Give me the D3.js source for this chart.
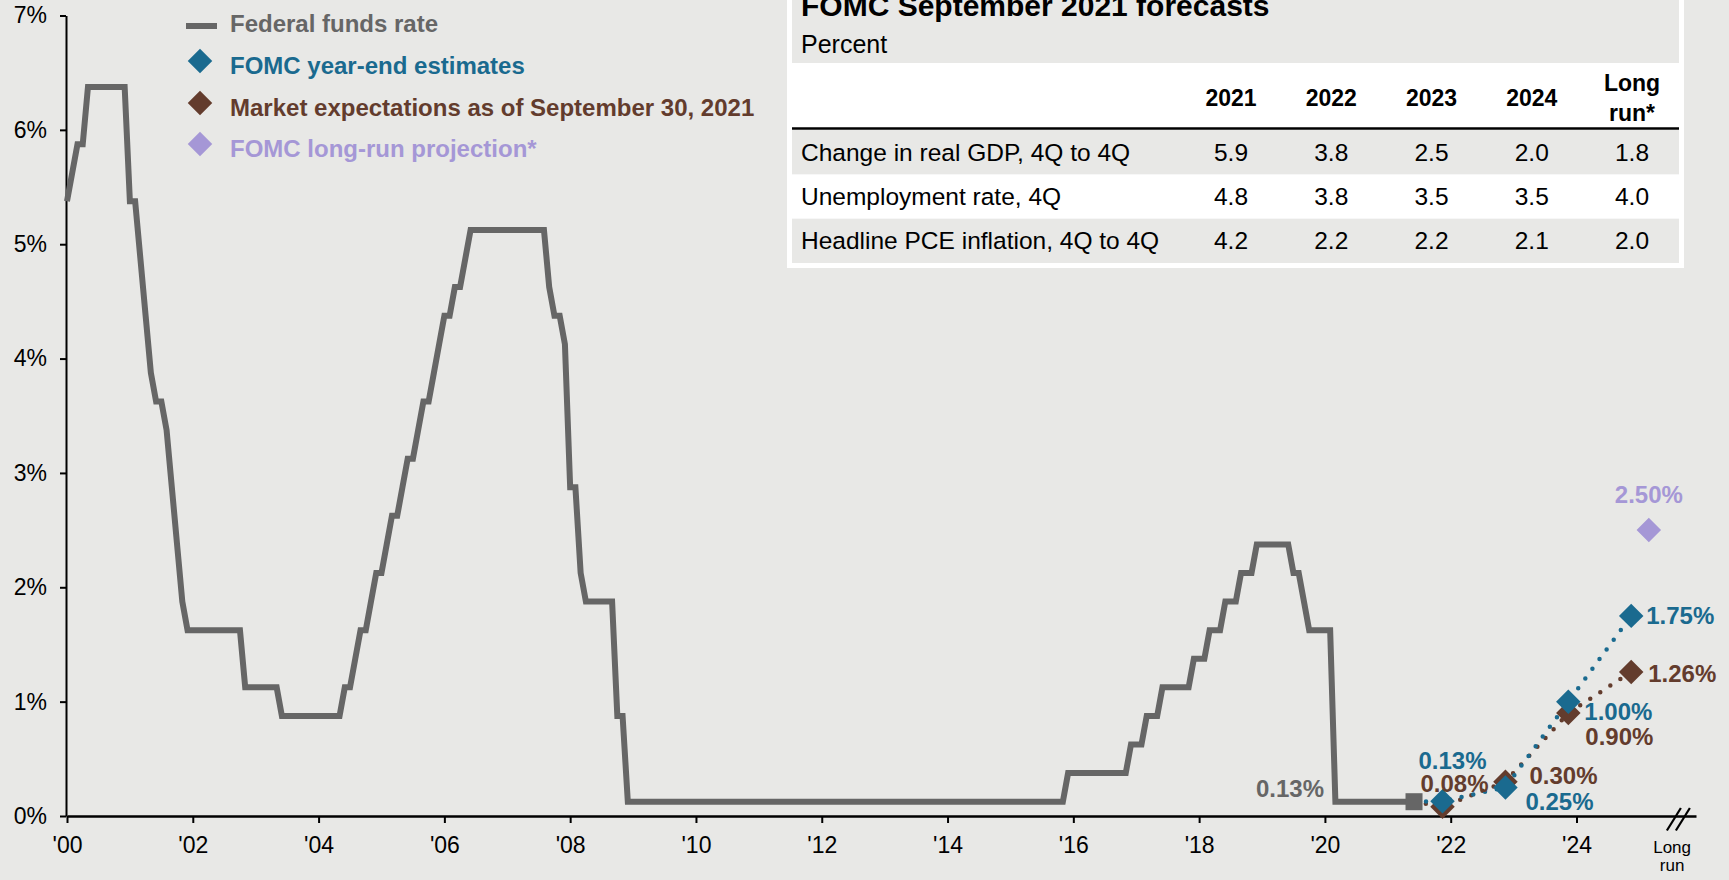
<!DOCTYPE html>
<html><head><meta charset="utf-8">
<script src="https://cdn.jsdelivr.net/npm/d3@7"></script>
<style>
html,body{margin:0;padding:0;background:#e8e8e6;}
svg{display:block;}
text{font-family:"Liberation Sans",Arial,Helvetica,sans-serif;}
</style>
</head><body>
<svg id="chart" width="1729" height="880"></svg>
<script>
// ---------------- DATA ----------------
const fedStartYear = 2000;
// Federal funds rate as plotted (monthly, Jan 2000 – Jun 2021), percent
const fedFundsMonthly = [
  5.375,5.625,5.875,5.875,6.375,6.375,6.375,6.375,6.375,6.375,6.375,6.375, // 2000
  5.375,5.375,4.875,4.375,3.875,3.625,3.625,3.375,2.875,2.375,1.875,1.625, // 2001
  1.625,1.625,1.625,1.625,1.625,1.625,1.625,1.625,1.625,1.625,1.125,1.125, // 2002
  1.125,1.125,1.125,1.125,1.125,0.875,0.875,0.875,0.875,0.875,0.875,0.875, // 2003
  0.875,0.875,0.875,0.875,0.875,1.125,1.125,1.375,1.625,1.625,1.875,2.125, // 2004
  2.125,2.375,2.625,2.625,2.875,3.125,3.125,3.375,3.625,3.625,3.875,4.125, // 2005
  4.375,4.375,4.625,4.625,4.875,5.125,5.125,5.125,5.125,5.125,5.125,5.125, // 2006
  5.125,5.125,5.125,5.125,5.125,5.125,5.125,5.125,4.625,4.375,4.375,4.125, // 2007
  2.875,2.875,2.125,1.875,1.875,1.875,1.875,1.875,1.875,0.875,0.875,0.125, // 2008
  0.125,0.125,0.125,0.125,0.125,0.125,0.125,0.125,0.125,0.125,0.125,0.125, // 2009
  0.125,0.125,0.125,0.125,0.125,0.125,0.125,0.125,0.125,0.125,0.125,0.125, // 2010
  0.125,0.125,0.125,0.125,0.125,0.125,0.125,0.125,0.125,0.125,0.125,0.125, // 2011
  0.125,0.125,0.125,0.125,0.125,0.125,0.125,0.125,0.125,0.125,0.125,0.125, // 2012
  0.125,0.125,0.125,0.125,0.125,0.125,0.125,0.125,0.125,0.125,0.125,0.125, // 2013
  0.125,0.125,0.125,0.125,0.125,0.125,0.125,0.125,0.125,0.125,0.125,0.125, // 2014
  0.125,0.125,0.125,0.125,0.125,0.125,0.125,0.125,0.125,0.125,0.125,0.375, // 2015
  0.375,0.375,0.375,0.375,0.375,0.375,0.375,0.375,0.375,0.375,0.375,0.625, // 2016
  0.625,0.625,0.875,0.875,0.875,1.125,1.125,1.125,1.125,1.125,1.125,1.375, // 2017
  1.375,1.375,1.625,1.625,1.625,1.875,1.875,1.875,2.125,2.125,2.125,2.375, // 2018
  2.375,2.375,2.375,2.375,2.375,2.375,2.125,2.125,1.875,1.625,1.625,1.625, // 2019
  1.625,1.625,0.125,0.125,0.125,0.125,0.125,0.125,0.125,0.125,0.125,0.125, // 2020
  0.125,0.125,0.125,0.125,0.125,0.125                                      // 2021
];
const fedLastLabel = "0.13%";

const fomcYears = [2021, 2022, 2023, 2024];
const fomcEstimates = [0.13, 0.25, 1.00, 1.75];
const marketExpectations = [0.08, 0.30, 0.90, 1.26];
const longRunProjection = 2.50;

const xTickYears = [2000,2002,2004,2006,2008,2010,2012,2014,2016,2018,2020,2022,2024];
const xTickLabels = ["'00","'02","'04","'06","'08","'10","'12","'14","'16","'18","'20","'22","'24"];
const longRunLabel = ["Long", "run"];
const yTicks = [0,1,2,3,4,5,6,7];

const legendLabels = ["Federal funds rate","FOMC year-end estimates","Market expectations as of September 30, 2021","FOMC long-run projection*"];

const tableTitle = "FOMC September 2021 forecasts";
const tableSubtitle = "Percent";
const tableCols = ["2021","2022","2023","2024","Long run*"];
const tableRowLabels = ["Change in real GDP, 4Q to 4Q","Unemployment rate, 4Q","Headline PCE inflation, 4Q to 4Q"];
const tableValues = [
  [5.9, 3.8, 2.5, 2.0, 1.8],
  [4.8, 3.8, 3.5, 3.5, 4.0],
  [4.2, 2.2, 2.2, 2.1, 2.0]
];

// ---------------- STYLE / LAYOUT ----------------
const BG = "#e8e8e6";
const C_FED = "#666666";
const C_BLUE = "#1a6a8f";
const C_BROWN = "#633c2d";
const C_PURPLE = "#a597d6";
const FONT = '"Liberation Sans",Arial,Helvetica,sans-serif';

const svg = d3.select("#chart");
svg.append("rect").attr("width",1729).attr("height",880).attr("fill",BG);

const x = d3.scaleLinear().domain([2000, 2025.9]).range([67, 1696]);
const y = d3.scaleLinear().domain([0, 7]).range([816, 15.5]);
const yearEndOffset = 0.87;   // year-end marker placement within a year
const longRunPos = 2025.15;
const longRunLabelPos = 2025.52;
const breakPos = 2025.62;

// ---------------- AXES ----------------
const yAxis = d3.axisLeft(y).tickValues(yTicks).tickSize(6).tickSizeOuter(0).tickPadding(13)
  .tickFormat(d => d + "%");
const gy = svg.append("g").attr("transform","translate(66,0)").call(yAxis);
gy.select(".domain").attr("stroke","#000").attr("stroke-width",2);
gy.selectAll(".tick line").attr("stroke","#000").attr("stroke-width",2);
gy.selectAll(".tick text").attr("font-family",FONT).attr("font-size",23).attr("fill","#000");

const xAxis = d3.axisBottom(x).tickValues(xTickYears).tickSize(7).tickSizeOuter(0).tickPadding(14)
  .tickFormat((d,i) => xTickLabels[i]);
const gx = svg.append("g").attr("transform","translate(0,816)").call(xAxis);
gx.select(".domain").attr("stroke","#000").attr("stroke-width",2.5);
gx.selectAll(".tick line").attr("stroke","#000").attr("stroke-width",2);
gx.selectAll(".tick text").attr("font-family",FONT).attr("font-size",23).attr("fill","#000");

// long-run axis label
const lr = svg.append("text").attr("x", x(longRunLabelPos)).attr("text-anchor","middle")
  .attr("font-size",17).attr("fill","#000");
lr.selectAll("tspan").data(longRunLabel).join("tspan")
  .attr("x", x(longRunLabelPos)).attr("y",(d,i)=> i===0 ? 853 : 871).text(d=>d);

// axis break marks
const bx = x(breakPos);
[-4.5, 4.5].forEach(off => {
  svg.append("line").attr("x1", bx+off-7).attr("y1",830.5).attr("x2", bx+off+7).attr("y2",808)
    .attr("stroke","#000").attr("stroke-width",2.2);
});

// ---------------- FED FUNDS LINE ----------------
const fedPoints = fedFundsMonthly.map((v,i) => [fedStartYear + i/12, v]);
const line = d3.line().x(d => x(d[0])).y(d => y(d[1]));
svg.append("path").datum(fedPoints).attr("d", line)
  .attr("fill","none").attr("stroke",C_FED).attr("stroke-width",6).attr("stroke-linejoin","miter");

const last = fedPoints[fedPoints.length-1];

// dotted projection lines
const mktPts = [last].concat(fomcYears.map((yr,i)=>[yr+yearEndOffset, marketExpectations[i]]));
const estPts = [last].concat(fomcYears.map((yr,i)=>[yr+yearEndOffset, fomcEstimates[i]]));
svg.append("path").datum(mktPts).attr("d", line).attr("fill","none").attr("stroke",C_BROWN)
  .attr("stroke-width",4.5).attr("stroke-linecap","round").attr("stroke-dasharray","0 12");
svg.append("path").datum(estPts).attr("d", line).attr("fill","none").attr("stroke",C_BLUE)
  .attr("stroke-width",4.5).attr("stroke-linecap","round").attr("stroke-dasharray","0 12");

// square end marker
svg.append("rect").attr("x", x(last[0])-8.5).attr("y", y(last[1])-8.5)
  .attr("width",17).attr("height",17).attr("fill",C_FED);

svg.append("text").attr("x", x(last[0])-90).attr("y", y(last[1])-5)
  .attr("text-anchor","end").attr("font-size",24).attr("font-weight","bold").attr("fill",C_FED)
  .text(fedLastLabel);

// diamonds
const diamond = d3.symbol().type(d3.symbolSquare).size(300);
function drawDiamonds(vals, color) {
  svg.append("g").selectAll("path").data(vals).join("path")
    .attr("d", diamond)
    .attr("transform",(d,i)=>`translate(${x(fomcYears[i]+yearEndOffset)},${y(d)}) rotate(45)`)
    .attr("fill", color);
}
drawDiamonds(marketExpectations, C_BROWN);
drawDiamonds(fomcEstimates, C_BLUE);
svg.append("path").attr("d", diamond)
  .attr("transform",`translate(${x(longRunPos)},${y(longRunProjection)}) rotate(45)`)
  .attr("fill", C_PURPLE);

// value labels (offsets = placement only)
const estLabelOffsets = [[10,-32,"middle"],[20,23,"start"],[16,18,"start"],[15,8.5,"start"]];
const mktLabelOffsets = [[12,-15,"middle"],[24,2.5,"start"],[17,32,"start"],[17,10.5,"start"]];
function drawLabels(vals, offs, color) {
  svg.append("g").selectAll("text").data(vals).join("text")
    .attr("x",(d,i)=> x(fomcYears[i]+yearEndOffset) + offs[i][0])
    .attr("y",(d,i)=> y(d) + offs[i][1])
    .attr("text-anchor",(d,i)=> offs[i][2])
    .attr("font-size",24).attr("font-weight","bold").attr("fill",color)
    .text(d => d.toFixed(2) + "%");
}
drawLabels(marketExpectations, mktLabelOffsets, C_BROWN);
drawLabels(fomcEstimates, estLabelOffsets, C_BLUE);
svg.append("text").attr("x", x(longRunPos)).attr("y", y(longRunProjection)-27)
  .attr("text-anchor","middle").attr("font-size",24).attr("font-weight","bold").attr("fill",C_PURPLE)
  .text(longRunProjection.toFixed(2) + "%");

// ---------------- LEGEND ----------------
const legendColors = [C_FED, C_BLUE, C_BROWN, C_PURPLE];
const legendBaselines = [32, 74, 116, 157];
const lg = svg.append("g");
legendLabels.forEach((lab,i) => {
  if (i === 0) {
    lg.append("line").attr("x1",186).attr("x2",217).attr("y1",26).attr("y2",26)
      .attr("stroke",C_FED).attr("stroke-width",6);
  } else {
    lg.append("path").attr("d", d3.symbol().type(d3.symbolSquare).size(300))
      .attr("transform",`translate(200,${legendBaselines[i]-13}) rotate(45)`)
      .attr("fill", legendColors[i]);
  }
  lg.append("text").attr("x",230).attr("y",legendBaselines[i])
    .attr("font-size",24).attr("font-weight","bold").attr("fill",legendColors[i]).text(lab);
});

// ---------------- TABLE ----------------
const tb = svg.append("g");
tb.append("rect").attr("x",787).attr("y",0).attr("width",897).attr("height",268).attr("fill","#fff");
tb.append("rect").attr("x",792).attr("y",0).attr("width",887).attr("height",63).attr("fill",BG);
tb.append("text").attr("x",801).attr("y",16).attr("font-size",30).attr("font-weight","bold").attr("fill","#000").text(tableTitle);
tb.append("text").attr("x",801).attr("y",53).attr("font-size",25).attr("fill","#000").text(tableSubtitle);

const colX = d3.scalePoint().domain(tableCols).range([1231, 1632]);
tableCols.forEach(c => {
  const parts = c.split(" ");
  if (parts.length === 1) {
    tb.append("text").attr("x",colX(c)).attr("y",106).attr("text-anchor","middle")
      .attr("font-size",23).attr("font-weight","bold").text(c);
  } else {
    tb.append("text").attr("x",colX(c)).attr("y",91).attr("text-anchor","middle")
      .attr("font-size",23).attr("font-weight","bold").text(parts[0]);
    tb.append("text").attr("x",colX(c)).attr("y",121).attr("text-anchor","middle")
      .attr("font-size",23).attr("font-weight","bold").text(parts[1]);
  }
});
tb.append("line").attr("x1",792).attr("x2",1679).attr("y1",128.5).attr("y2",128.5)
  .attr("stroke","#000").attr("stroke-width",2.5);

const rowY = d3.scaleBand().domain(tableRowLabels).range([130, 263]);
tableRowLabels.forEach((r,i) => {
  if (i % 2 === 0) {
    tb.append("rect").attr("x",792).attr("y",rowY(r)).attr("width",887).attr("height",rowY.bandwidth()).attr("fill",BG);
  }
  const base = rowY(r) + rowY.bandwidth()/2 + 8.5;
  tb.append("text").attr("x",801).attr("y",base).attr("font-size",24.5).attr("fill","#000").text(r);
  tableValues[i].forEach((v,j) => {
    tb.append("text").attr("x",colX(tableCols[j])).attr("y",base).attr("text-anchor","middle")
      .attr("font-size",24.5).attr("fill","#000").text(v.toFixed(1));
  });
});
</script>
</body></html>
